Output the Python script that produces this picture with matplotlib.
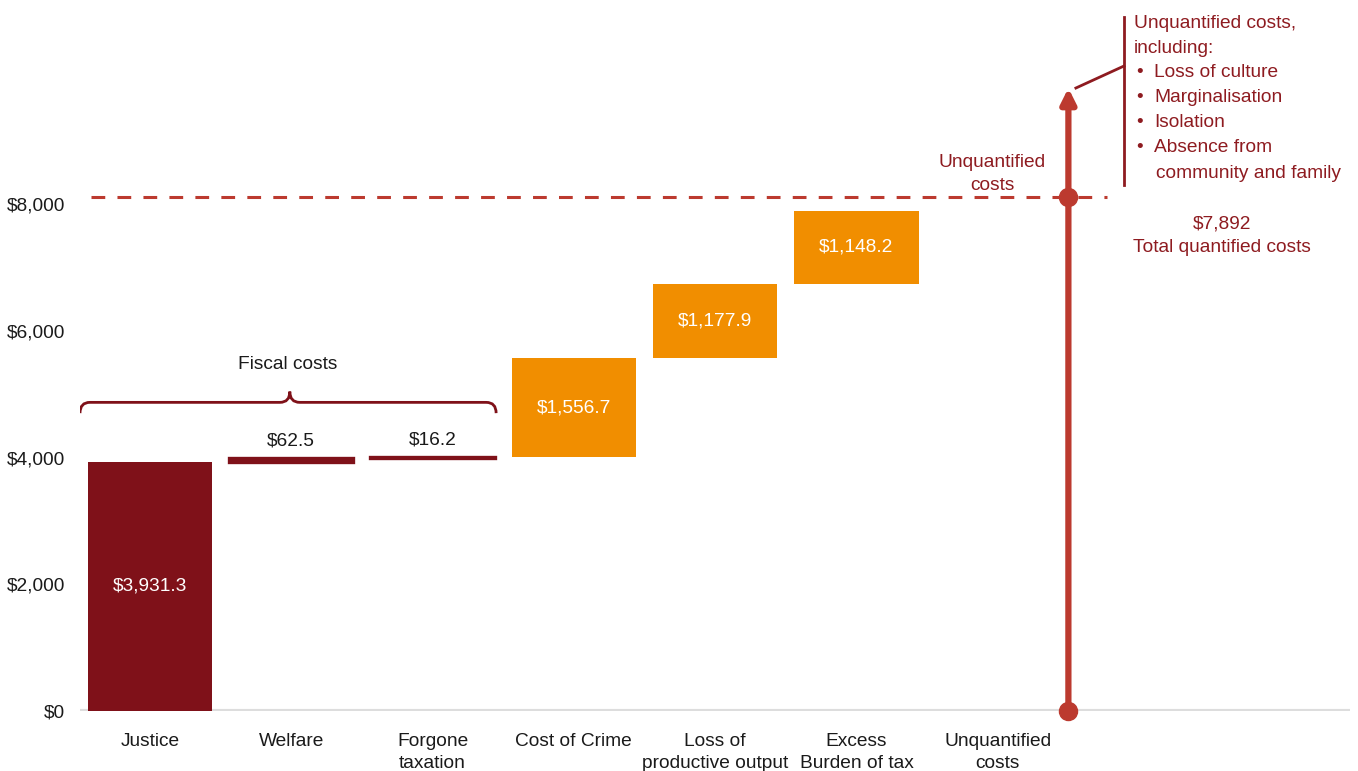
import numpy as np
import matplotlib
matplotlib.use("Agg")
import matplotlib.pyplot as plt
from matplotlib.path import Path
from matplotlib.patches import PathPatch

FS = 13.8
plt.rcParams['font.family'] = ['Liberation Sans', 'DejaVu Sans']
plt.rcParams['font.size'] = FS

# cost components ($m)
categories = ["Justice", "Welfare", "Forgone\ntaxation", "Cost of Crime",
              "Loss of\nproductive output", "Excess\nBurden of tax",
              "Unquantified\ncosts"]
values = [3931.3, 62.5, 16.2, 1556.7, 1177.9, 1148.2]
labels = ["$3,931.3", "$62.5", "$16.2", "$1,556.7", "$1,177.9", "$1,148.2"]
fiscal = [True, True, True, False, False, False]
total_label = "$7,892"
yticks = [0, 2000, 4000, 6000, 8000]
unq_items = ["Loss of culture", "Marginalisation", "Isolation", "Absence from"]

DARK = "#7F1119"
ORANGE = "#F18E00"
RED = "#BC3A2F"
TXT_RED = "#8E1B20"
INK = "#1a1a1a"

fig = plt.figure(figsize=(13.58, 7.71), dpi=100)
ax = fig.add_axes([80 / 1358, 60 / 771, 1270 / 1358, 711 / 771])
ax.set_xlim(-0.495, 8.493)
ax.set_ylim(0, 11219)

x = np.arange(len(categories))
bottoms = np.concatenate([[0], np.cumsum(values)[:-1]])
tops = bottoms + np.array(values)
width = 0.88

for i, (v, b, lab, fis) in enumerate(zip(values, bottoms, labels, fiscal)):
    col = DARK if fis else ORANGE
    thin = v < 200
    # tiny segments get an outline so they stay visible
    ax.bar(x[i], v, width, bottom=b, color=col,
           edgecolor=col if thin else "none", linewidth=2.4 if thin else 0)
    if thin:
        ax.annotate(lab, (x[i], b + v), xytext=(0, 12.5), textcoords="offset points",
                    ha="center", va="center", color=INK, fontsize=FS)
    else:
        ax.text(x[i], b + v / 2, lab, ha="center", va="center", color="white", fontsize=FS)

# baseline
ax.axhline(0, color="#dddddd", lw=3, zorder=0)

# total quantified costs line and unquantified arrow
total = tops[-1]
dash_y = 8110
arrow_x = 6.5
arrow_top = 9830
ax.plot([-0.42, 6.77], [dash_y, dash_y], color=RED, lw=2.2, dashes=(4.5, 4), zorder=1)
ax.annotate("", xy=(arrow_x, arrow_top), xytext=(arrow_x, 0),
            arrowprops=dict(arrowstyle="-|>", lw=4.5, color=RED, shrinkA=0, shrinkB=0,
                            mutation_scale=22))
ax.plot([arrow_x, arrow_x], [0, dash_y], "o", color=RED, ms=13, clip_on=False, zorder=5)

ax.text(5.96, 8470, "Unquantified\ncosts", ha="center", va="center", color=TXT_RED,
        fontsize=FS, linespacing=1.45)
ax.text(7.587, 7505, total_label + "\nTotal quantified costs", ha="center", va="center",
        color=TXT_RED, fontsize=FS, linespacing=1.5)

# side note with bullet list
ax.plot([6.553, 6.893], [arrow_top, 10177], color=TXT_RED, lw=2)
ax.plot([6.893, 6.893], [8300, 10951], color=TXT_RED, lw=2)
ax.text(6.964, 10850, "Unquantified costs,", va="center", color=TXT_RED, fontsize=FS)
ax.text(6.964, 10460, "including:", va="center", color=TXT_RED, fontsize=FS)
for k, item in enumerate(unq_items):
    yy = 10075 - k * 396
    ax.text(7.006, yy, "\u2022", ha="center", va="center", color=TXT_RED, fontsize=FS)
    ax.text(7.105, yy, item, va="center", color=TXT_RED, fontsize=FS)
ax.text(7.12, 8480, "community and family", va="center", color=TXT_RED, fontsize=FS)

# brace over the fiscal costs
def brace(ax, x0, x1, xm, y, dy, dx, color):
    verts = [(x0, y - dy), (x0, y), (x0 + dx, y),
             (xm - dx, y), (xm, y), (xm, y + dy),
             (xm, y), (xm + dx, y),
             (x1 - dx, y), (x1, y), (x1, y - dy)]
    codes = [Path.MOVETO, Path.CURVE3, Path.CURVE3,
             Path.LINETO, Path.CURVE3, Path.CURVE3,
             Path.CURVE3, Path.CURVE3,
             Path.LINETO, Path.CURVE3, Path.CURVE3]
    ax.add_patch(PathPatch(Path(verts, codes), fill=False, edgecolor=color, lw=2))

brace(ax, -0.495, 2.45, 0.99, 4870, 170, 0.07, DARK)
ax.text(0.977, 5460, "Fiscal costs", ha="center", va="center", color=INK, fontsize=FS)

ax.set_yticks(yticks)
ax.set_yticklabels([f"${t:,}" for t in yticks])
ax.set_xticks(x)
ax.set_xticklabels(categories, linespacing=1.4)
ax.tick_params(axis="both", length=0, colors=INK, labelsize=FS)
ax.tick_params(axis="y", pad=11)
ax.tick_params(axis="x", pad=16)
for s in ax.spines.values():
    s.set_visible(False)

fig.savefig("out.png", dpi=100)
